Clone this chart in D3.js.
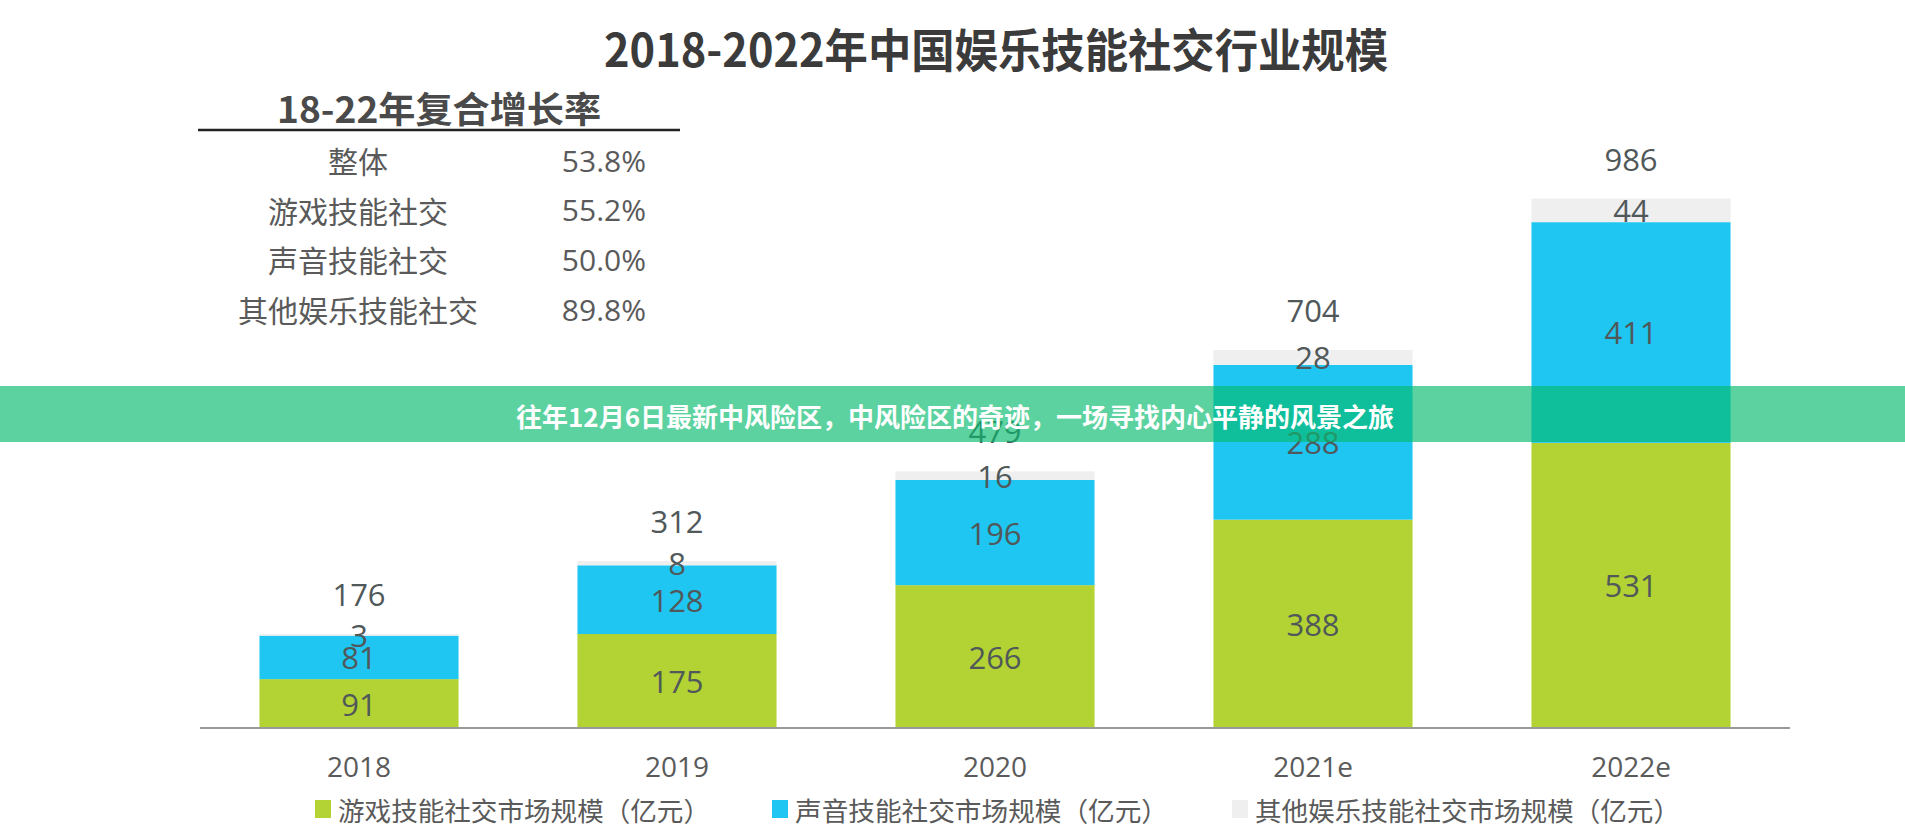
<!DOCTYPE html>
<html>
<head>
<meta charset="utf-8">
<script src="https://cdn.jsdelivr.net/npm/d3@7"></script>
<style>
  html, body { margin: 0; padding: 0; background: #fff; overflow: hidden; }
  svg { display: block; }
</style>
</head>
<body>
<svg id="chart" width="1905" height="830"></svg>
<script>
// ---- data ----
const years = ["2018", "2019", "2020", "2021e", "2022e"];
const gameValues = [91, 175, 266, 388, 531];
const voiceValues = [81, 128, 196, 288, 411];
const otherValues = [3, 8, 16, 28, 44];
const totalValues = [176, 312, 479, 704, 986];
const seriesNames = ["游戏技能社交市场规模（亿元）", "声音技能社交市场规模（亿元）", "其他娱乐技能社交市场规模（亿元）"];
const cagrLabels = ["整体", "游戏技能社交", "声音技能社交", "其他娱乐技能社交"];
const cagrValues = ["53.8%", "55.2%", "50.0%", "89.8%"];
const titleText = "2018-2022年中国娱乐技能社交行业规模";
const tableTitle = "18-22年复合增长率";
const bannerText = "往年12月6日最新中风险区，中风险区的奇迹，一场寻找内心平静的风景之旅";

const colors = ["#b3d233", "#1fc6f1", "#efefef"];
const labelColor = "#50585a";
const cjk = "'Noto Sans CJK SC', 'Noto Sans', sans-serif";
const num = "'Open Sans', 'Noto Sans', sans-serif";

const svg = d3.select("#chart");

// ---- scales ----
const x = d3.scaleBand().domain(years).range([200, 1790]).paddingInner(0.374).paddingOuter(0.187);
const y = d3.scaleLinear().domain([0, 1000]).range([728, 191]);

// ---- stacked data ----
const table = years.map((yr, i) => ({ year: yr, game: gameValues[i], voice: voiceValues[i], other: otherValues[i], total: totalValues[i] }));
const keys = ["game", "voice", "other"];
const stacked = d3.stack().keys(keys)(table);

// ---- title ----
svg.append("text")
  .attr("x", 996).attr("y", 67)
  .attr("text-anchor", "middle")
  .attr("font-family", cjk).attr("font-weight", 700).attr("font-size", 46)
  .attr("fill", "#3b3b3b")
  .attr("textLength", 784).attr("lengthAdjust", "spacingAndGlyphs")
  .text(titleText);

// ---- CAGR table ----
svg.append("text")
  .attr("x", 439).attr("y", 123)
  .attr("text-anchor", "middle")
  .attr("font-family", cjk).attr("font-weight", 700).attr("font-size", 36)
  .attr("fill", "#4a4a4a")
  .attr("textLength", 324).attr("lengthAdjust", "spacingAndGlyphs")
  .text(tableTitle);
svg.append("line")
  .attr("x1", 198).attr("x2", 680).attr("y1", 130).attr("y2", 130)
  .attr("stroke", "#222").attr("stroke-width", 2.5);

const rowY = d3.scalePoint().domain(cagrLabels).range([160, 309]);
svg.append("g").selectAll("text").data(cagrLabels).join("text")
  .attr("x", 358).attr("y", d => rowY(d))
  .attr("dominant-baseline", "central")
  .attr("text-anchor", "middle")
  .attr("font-family", cjk).attr("font-size", 30)
  .attr("fill", "#5a5a5a")
  .text(d => d);
svg.append("g").selectAll("text").data(cagrValues).join("text")
  .attr("x", 646).attr("y", (d, i) => rowY(cagrLabels[i]))
  .attr("dominant-baseline", "central")
  .attr("text-anchor", "end")
  .attr("font-family", num).attr("font-size", 30)
  .attr("fill", "#5a5a5a")
  .text(d => d);

// ---- bars ----
const gBars = svg.append("g");
stacked.forEach((layer, li) => {
  gBars.append("g").selectAll("rect").data(layer).join("rect")
    .attr("x", d => x(d.data.year))
    .attr("width", x.bandwidth())
    .attr("y", d => y(d[1]))
    .attr("height", d => y(d[0]) - y(d[1]))
    .attr("fill", colors[li]);
});

// segment labels
stacked.forEach((layer, li) => {
  gBars.append("g").selectAll("text").data(layer).join("text")
    .attr("x", d => x(d.data.year) + x.bandwidth() / 2)
    .attr("y", d => (y(d[0]) + y(d[1])) / 2)
    .attr("dominant-baseline", "central")
    .attr("text-anchor", "middle")
    .attr("font-family", num).attr("font-size", 31)
    .attr("fill", labelColor)
    .text(d => d.data[keys[li]]);
});

// total labels
gBars.append("g").selectAll("text").data(table).join("text")
  .attr("x", d => x(d.year) + x.bandwidth() / 2)
  .attr("y", d => y(d.game + d.voice + d.other) - 40)
  .attr("dominant-baseline", "central")
  .attr("text-anchor", "middle")
  .attr("font-family", num).attr("font-size", 31)
  .attr("fill", labelColor)
  .text(d => d.total);

// ---- axis ----
const xAxis = d3.axisBottom(x).tickSize(0).tickPadding(0);
const gx = svg.append("g").attr("transform", "translate(0,728)").call(xAxis);
gx.select(".domain").attr("stroke", "#999").attr("stroke-width", 2).attr("d", "M200,0H1790");
gx.selectAll(".tick text")
  .attr("y", 49).attr("dy", null)
  .attr("font-family", num).attr("font-size", 28)
  .attr("fill", "#5a5a5a");

// ---- legend ----
const legendX = [315, 772, 1232];
const legendW = [372, 373, 425];
const gLeg = svg.append("g");
seriesNames.forEach((name, i) => {
  gLeg.append("rect")
    .attr("x", legendX[i]).attr("y", 800).attr("width", 16).attr("height", 18)
    .attr("fill", colors[i]);
  gLeg.append("text")
    .attr("x", legendX[i] + 23).attr("y", 809)
    .attr("dominant-baseline", "central")
    .attr("font-family", cjk).attr("font-size", 26.5)
    .attr("fill", "#5a5a5a")
    .attr("textLength", legendW[i]).attr("lengthAdjust", "spacingAndGlyphs")
    .text(name);
});

// ---- banner overlay ----
svg.append("rect")
  .attr("x", 0).attr("y", 386).attr("width", 1905).attr("height", 56)
  .attr("fill", "rgb(8,186,111)").attr("fill-opacity", 0.66);
svg.append("text")
  .attr("x", 955).attr("y", 415)
  .attr("dominant-baseline", "central")
  .attr("text-anchor", "middle")
  .attr("font-family", cjk).attr("font-weight", 700).attr("font-size", 26)
  .attr("fill", "#ffffff")
  .attr("textLength", 878).attr("lengthAdjust", "spacingAndGlyphs")
  .text(bannerText);
</script>
</body>
</html>
